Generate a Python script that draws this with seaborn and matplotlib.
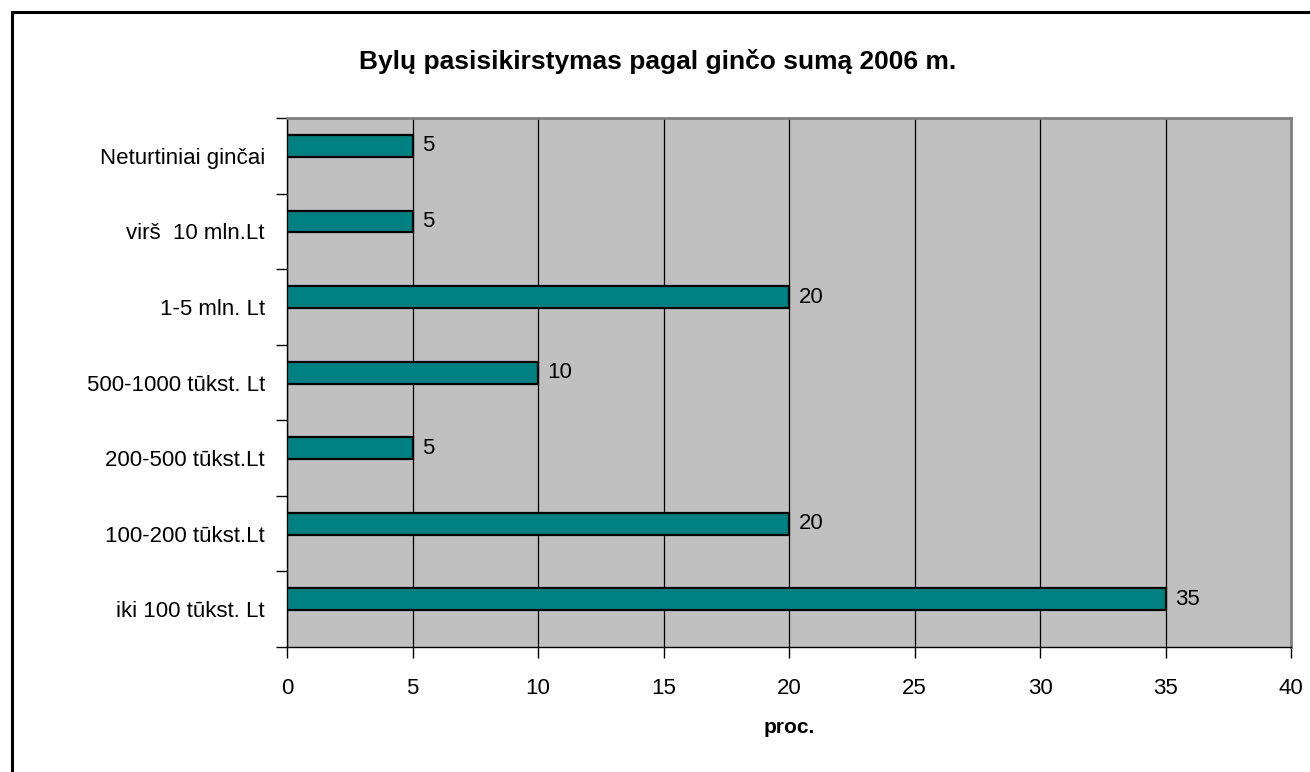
import matplotlib
matplotlib.use("Agg")
import matplotlib.pyplot as plt
from matplotlib.patches import Rectangle
import seaborn as sns
import pandas as pd
import numpy as np

# Duomenys
categories = [
    "Neturtiniai ginčai",
    "virš  10 mln.Lt",
    "1-5 mln. Lt",
    "500-1000 tūkst. Lt",
    "200-500 tūkst.Lt",
    "100-200 tūkst.Lt",
    "iki 100 tūkst. Lt",
]
values = [5, 5, 20, 10, 5, 20, 35]
x_ticks = [0, 5, 10, 15, 20, 25, 30, 35, 40]

df = pd.DataFrame({"kategorija": categories, "proc": values})

sns.set_theme(style="white", rc={
    "text.color": "black",
    "axes.labelcolor": "black",
    "xtick.color": "black",
    "ytick.color": "black",
})
plt.rcParams["font.family"] = ["Liberation Sans", "DejaVu Sans"]

fig = plt.figure(figsize=(13.1, 7.72), dpi=100)
ax = fig.add_axes([287 / 1310, 1 - 647 / 772, 1004 / 1310, 529 / 772])

sns.barplot(
    data=df, x="proc", y="kategorija", orient="h", ax=ax,
    color="#008080", saturation=1, width=0.29,
    edgecolor="black", linewidth=1.6, zorder=3,
)
# Excel stulpeliai šiek tiek pakelti kategorijos viduje
for p in ax.patches:
    p.set_y(p.get_y() - 0.13)

ax.set_facecolor("#C0C0C0")
ax.set_xlim(0, 40)
ax.set_ylim(len(categories) - 0.5, -0.5)

# X ašis
ax.set_xticks(x_ticks)
ax.set_xticklabels([str(t) for t in x_ticks], fontsize=16)
ax.tick_params(axis="x", direction="out", length=8, width=1, color="black",
               pad=14, bottom=True)
ax.xaxis.grid(True, color="black", linewidth=0.9, zorder=1)
ax.set_axisbelow(True)

# Y ašis: žymės tarp kategorijų, pavadinimai per vidurį
ax.set_yticks(np.arange(-0.5, len(categories), 1.0))
ax.set_yticklabels([])
ax.set_yticks(np.arange(len(categories)), minor=True)
ax.set_yticklabels(categories, minor=True, fontsize=16)
ax.tick_params(axis="y", which="major", direction="out", length=8, width=1,
               color="black", left=True)
ax.tick_params(axis="y", which="minor", length=0, pad=16, left=True)

ax.set_ylabel("")
ax.set_xlabel("proc.", fontsize=15, fontweight="bold", labelpad=14)

for side in ["left", "bottom"]:
    ax.spines[side].set_color("black")
    ax.spines[side].set_linewidth(1.0)
for side in ["top", "right"]:
    ax.spines[side].set_color("#808080")
    ax.spines[side].set_linewidth(2.0)

# Reikšmės prie stulpelių
ax.bar_label(ax.containers[0], labels=[str(v) for v in values],
             padding=7, fontsize=16, color="black")

fig.text(658 / 1310, 1 - 62 / 772, "Bylų pasisikirstymas pagal ginčo sumą 2006 m.",
         ha="center", va="center", fontsize=19, fontweight="bold", color="black")

# Išorinis rėmelis
fig.patches.append(Rectangle((12 / 1310, -0.1), 1.2, 1.1 - 12 / 772,
                             transform=fig.transFigure, fill=False,
                             edgecolor="black", linewidth=2.2))

fig.savefig("out.png", dpi=100)
plt.close(fig)
